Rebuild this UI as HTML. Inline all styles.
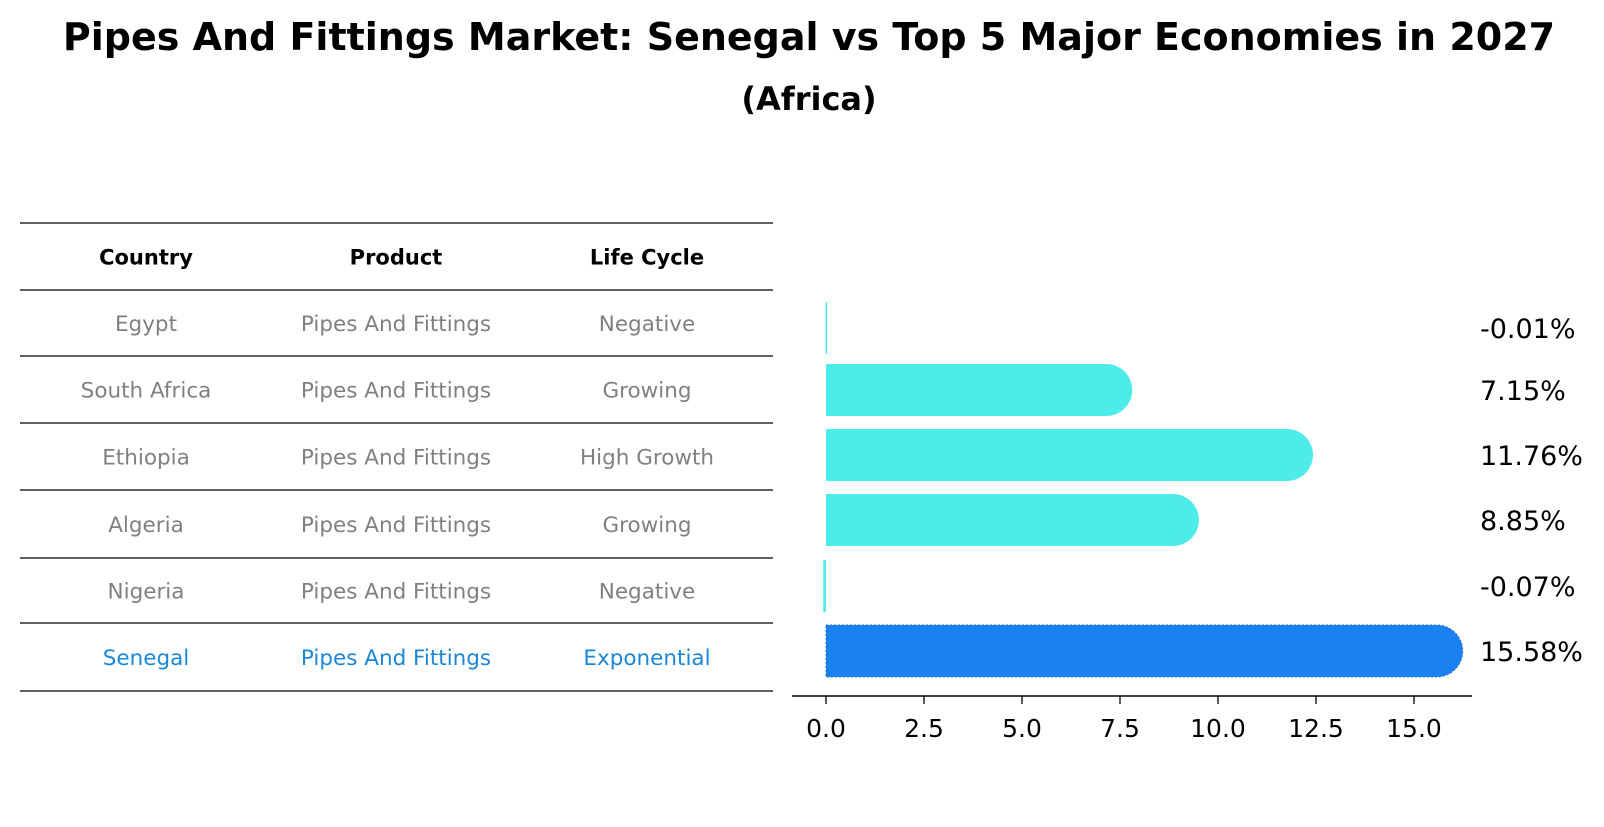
<!DOCTYPE html>
<html><head><meta charset="utf-8"><style>
body{margin:0;background:#fff;font-family:"DejaVu Sans","Liberation Sans",sans-serif}
</style></head><body>
<svg width="1604" height="823" xmlns="http://www.w3.org/2000/svg" style="font-family:'DejaVu Sans','Liberation Sans',sans-serif">
<text x="809" y="50" text-anchor="middle" font-size="38" font-weight="bold">Pipes And Fittings Market: Senegal vs Top 5 Major Economies in 2027</text>
<text x="809" y="110" text-anchor="middle" font-size="32" font-weight="bold">(Africa)</text>
<g id="table"></g>
<g id="bars"></g>
</svg>
<script>
const countries=["Egypt","South Africa","Ethiopia","Algeria","Nigeria","Senegal"];
const products=["Pipes And Fittings","Pipes And Fittings","Pipes And Fittings","Pipes And Fittings","Pipes And Fittings","Pipes And Fittings"];
const lifeCycles=["Negative","Growing","High Growth","Growing","Negative","Exponential"];
const growth=[-0.01,7.15,11.76,8.85,-0.07,15.58];
const ticks=[0,2.5,5,7.5,10,12.5,15];
const NS="http://www.w3.org/2000/svg";
function mk(t,a,p){const e=document.createElementNS(NS,t);for(const k in a)e.setAttribute(k,a[k]);p.appendChild(e);return e;}
const tb=document.getElementById('table');
const lines=[223,290,356,423,490,558,623,691];
lines.forEach(y=>{const l=mk('line',{x1:20,x2:773,y1:y,y2:y,stroke:'#000','stroke-width':1.2},tb);

});
const cx=[146,396,647];
["Country","Product","Life Cycle"].forEach((h,i)=>{const t=mk('text',{x:cx[i],y:(lines[0]+lines[1])/2+8,'text-anchor':'middle','font-size':21,'font-weight':'bold'},tb);t.textContent=h;

});
countries.forEach((c,r)=>{const y=(lines[r+1]+lines[r+2])/2+8;const col=c==="Senegal"?'#1a87d9':'#808080';
[c,products[r],lifeCycles[r]].forEach((v,i)=>{const t=mk('text',{x:cx[i],y:y,'text-anchor':'middle','font-size':21.5,fill:col},tb);t.textContent=v;

});});
const bg=document.getElementById('bars');
const x0=826,k=39.2;const X=v=>x0+v*k;
const rowY=[328,390,455,520,586,651];const h=52,r=26;
const ax=mk('line',{x1:792,x2:1472,y1:696,y2:696,stroke:'#000','stroke-width':1.5},bg);


ticks.forEach(t=>{const l=mk('line',{x1:X(t),x2:X(t),y1:696,y2:704,stroke:'#000','stroke-width':1.3},bg);


const tx=mk('text',{x:X(t),y:737,'text-anchor':'middle','font-size':25},bg);tx.textContent=t.toFixed(1);

});
growth.forEach((v,i)=>{const sen=countries[i]==="Senegal";const col=sen?'#1a82f0':'#4debea';const y=rowY[i];
const g=mk('g',{},bg);


const w=Math.max(Math.abs(X(v)-x0),1.5);
const xs=Math.min(X(v),x0);
if(Math.abs(v)>0.5){
 const e=X(v);
 const d=`M${x0},${y-h/2} L${e},${y-h/2} A${r},${r} 0 0 1 ${e},${y+h/2} L${x0},${y+h/2} Z`;
 const p=mk('path',{d:d,fill:col},g);
 if(sen){p.setAttribute('stroke','#2f6fd0');p.setAttribute('stroke-width','1');p.setAttribute('stroke-dasharray','2,2');}
}else{
 mk('rect',{x:xs,y:y-h/2,width:w,height:h,fill:col},g);
}
const t=mk('text',{x:1480,y:y+10,'font-size':27},bg);t.textContent=v.toFixed(2)+'%';

});
</script>
</body></html>
